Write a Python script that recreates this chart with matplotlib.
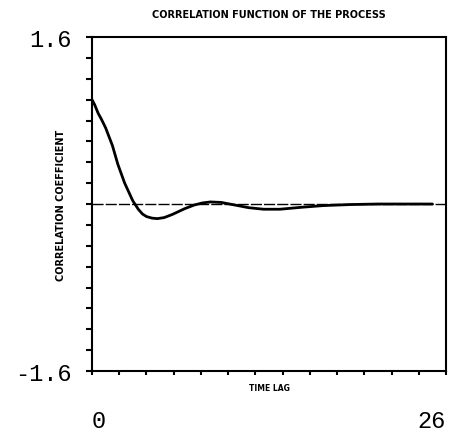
import matplotlib
matplotlib.use('Agg')
import matplotlib.pyplot as plt
import numpy as np

# correlation function
lag = [0, 0.2, 0.45, 0.7, 1.0, 1.5, 1.9, 2.4, 3.0, 3.4, 3.7, 4.0, 4.4, 4.8,
       5.3, 5.9, 6.8, 7.5, 8.1, 8.7, 9.5, 10.5, 11.5, 12.6, 13.8, 15.5, 17,
       19, 21, 23, 25]
corr = [1.0, 0.95, 0.87, 0.81, 0.73, 0.56, 0.38, 0.2, 0.03, -0.05, -0.095,
        -0.12, -0.135, -0.14, -0.13, -0.1, -0.045, -0.01, 0.01, 0.02, 0.015,
        -0.01, -0.035, -0.05, -0.05, -0.03, -0.015, -0.005, 0.0, 0.0, 0.0]

ytick_vals = np.round(np.arange(-1.6, 1.61, 0.2), 1)
xtick_vals = np.arange(0, 27, 2)

fig = plt.figure(figsize=(4.57, 4.35), dpi=100)
ax = fig.add_axes([0.2013, 0.1448, 0.7747, 0.7678])

ax.axhline(0, color='black', lw=1.0, dashes=(8, 1.5))
ax.plot(lag, corr, color='black', lw=2.0, solid_capstyle='round',
        solid_joinstyle='round')

ax.set_xlim(0, 26)
ax.set_ylim(-1.6, 1.6)

mono = 'Liberation Mono'
ax.set_yticks(ytick_vals)
ax.set_yticklabels(['-1.6' if v == -1.6 else ('1.6' if v == 1.6 else '')
                    for v in ytick_vals], family=mono, fontsize=17)
ax.set_xticks(xtick_vals)
xlabels = ax.set_xticklabels(['0' if v == 0 else ('26' if v == 26 else '')
                              for v in xtick_vals], family=mono, fontsize=17)
xlabels[0].set_ha('left')
xlabels[-1].set_ha('right')
ax.tick_params(axis='y', direction='out', length=4, width=1.5, pad=11)
ax.tick_params(axis='x', direction='out', length=3, width=1.5, pad=24)

for s in ax.spines.values():
    s.set_linewidth(1.5)

ax.set_title('CORRELATION FUNCTION OF THE PROCESS', fontsize=7,
             fontweight='bold', pad=14.5)
ax.set_xlabel('TIME LAG', fontsize=5.5, fontweight='bold')
ax.xaxis.set_label_coords(0.5, -0.035)
ax.set_ylabel('CORRELATION COEFFICIENT', fontsize=7, fontweight='bold')
ax.yaxis.set_label_coords(-0.073, 0.5)

fig.savefig('out.png', dpi=100)
